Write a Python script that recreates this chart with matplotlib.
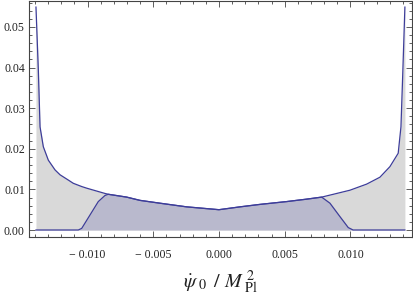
import matplotlib
matplotlib.use("Agg")
import matplotlib.pyplot as plt
from matplotlib.ticker import MultipleLocator, FixedLocator, FuncFormatter

# Upper (gray) distribution
upper_x = [-0.01392, -0.01374, -0.01361, -0.01336, -0.01298, -0.01247, -0.01209,
           -0.01146, -0.01108, -0.01044, -0.01006, -0.00867, -0.00842, -0.00702,
           -0.00601, -0.00449, -0.00246, 0.0, 0.0016, 0.0031, 0.00515, 0.00667,
           0.00781, 0.0087, 0.00996, 0.01123, 0.01224, 0.0130, 0.01363, 0.01384,
           0.01397, 0.01414]
upper_y = [0.0549, 0.0394, 0.0254, 0.0205, 0.0172, 0.0148, 0.0136,
           0.0123, 0.0115, 0.0107, 0.0103, 0.0090, 0.0088, 0.0081,
           0.0073, 0.0066, 0.0057, 0.0050, 0.0057, 0.0063, 0.0070, 0.0076,
           0.0081, 0.0088, 0.0098, 0.0113, 0.0130, 0.0156, 0.0189, 0.0254,
           0.0378, 0.0549]

# Lower (blue) distribution
lower_x = [-0.01392, -0.0107, -0.01044, -0.00981, -0.00918, -0.00867, -0.00842,
           -0.00702, -0.00601, -0.00449, -0.00246, 0.0, 0.0016, 0.0031, 0.00515,
           0.00667, 0.00781, 0.00844, 0.0092, 0.00983, 0.0102, 0.01414]
lower_y = [0.0, 0.0, 0.0004, 0.0037, 0.0070, 0.0085, 0.0088,
           0.0081, 0.0073, 0.0066, 0.0057, 0.0050, 0.0057, 0.0063, 0.0070,
           0.0076, 0.0081, 0.0066, 0.0033, 0.0006, 0.0, 0.0]

x_ticks = [-0.010, -0.005, 0.000, 0.005, 0.010]
y_ticks = [0.00, 0.01, 0.02, 0.03, 0.04, 0.05]

line_color = (0.24, 0.24, 0.6)
frame_color = "#444444"

plt.rcParams['font.family'] = ['Liberation Serif', 'DejaVu Serif']
plt.rcParams['mathtext.fontset'] = 'stix'

fig = plt.figure(figsize=(4.13, 3.00), dpi=100)
ax = fig.add_axes([29/413, 1 - 236.7/300, (412-29)/413, (236.7-1)/300])

ax.fill_between(upper_x, 0, upper_y, color="#d9d9d9", lw=0, zorder=1)
ax.fill_between(lower_x, 0, lower_y, color="#b9b9cd", lw=0, zorder=2)
ax.plot(upper_x, upper_y, color=line_color, lw=0.9, zorder=3)
ax.plot(lower_x, lower_y, color=line_color, lw=0.9, zorder=3)

ax.set_xlim(-0.01445, 0.01468)
ax.set_ylim(-0.00165, 0.0564)

ax.xaxis.set_major_locator(FixedLocator(x_ticks))
ax.xaxis.set_minor_locator(MultipleLocator(0.001))
ax.yaxis.set_major_locator(FixedLocator(y_ticks))
ax.yaxis.set_minor_locator(MultipleLocator(0.002))

def xfmt(v, pos):
    s = f"{abs(v):.3f}"
    return ("\u2212 " + s) if v < -1e-12 else s

ax.xaxis.set_major_formatter(FuncFormatter(xfmt))
ax.yaxis.set_major_formatter(FuncFormatter(lambda v, p: f"{v:.2f}"))

ax.tick_params(which='both', direction='in', top=True, right=True,
               color=frame_color, labelsize=8.5, labelcolor='#222222', width=0.6)
ax.tick_params(which='major', length=4)
ax.tick_params(which='minor', length=2.2)
ax.tick_params(axis='x', pad=9)
ax.tick_params(axis='y', pad=3)
ax.tick_params(top=True, right=True, labeltop=False, labelright=False)

for sp in ax.spines.values():
    sp.set_color(frame_color)
    sp.set_linewidth(0.8)

ax.set_xlabel(r'$\dot{\psi}_{\ 0}\ \,/\ M_{\ \mathrm{Pl}}^{\ 2}$', fontsize=14.5,
              labelpad=5, color='#222222')

fig.savefig("out.png", dpi=100)
